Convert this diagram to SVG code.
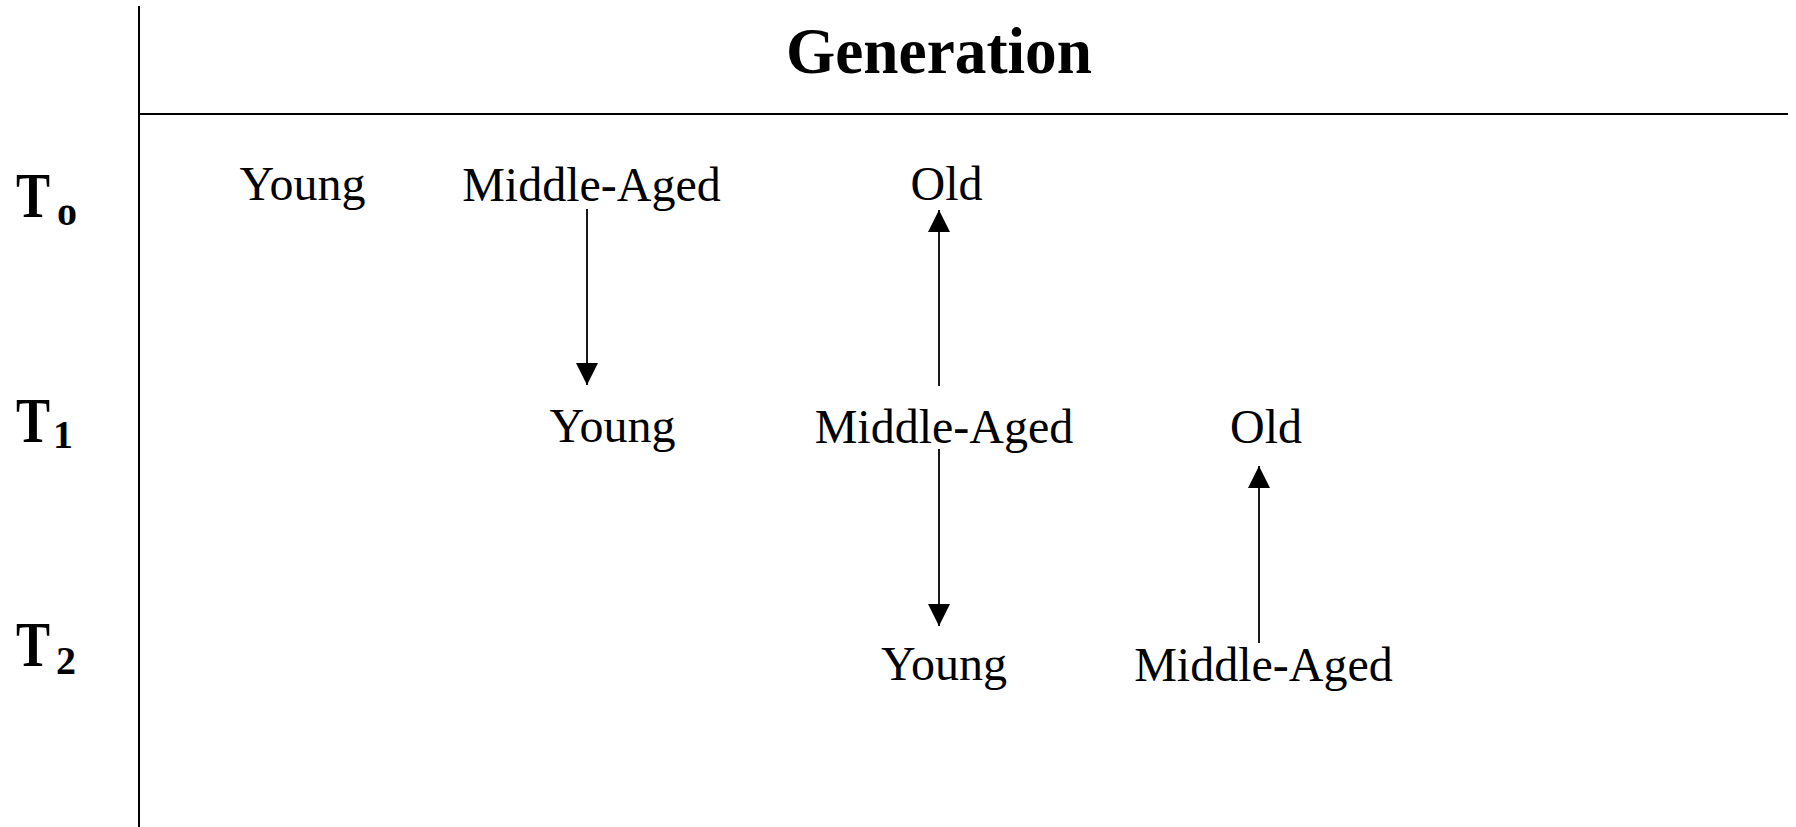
<svg xmlns="http://www.w3.org/2000/svg" width="1796" height="827" viewBox="0 0 1796 827">
<style>
.lbl{font-family:"Liberation Serif","Times New Roman",serif;font-size:48px;fill:#000;text-anchor:middle}
.tl{font-family:"Liberation Serif","Times New Roman",serif;font-weight:bold;fill:#000}
.ax{stroke:#000;stroke-width:2;fill:none}
.arr{stroke:#000;stroke-width:1.8;fill:none;marker-end:url(#ah)}
</style>
<defs>
<marker id="ah" markerUnits="userSpaceOnUse" markerWidth="22" markerHeight="22" viewBox="0 0 20 20" refX="20" refY="10" orient="auto">
<path d="M0,0 L20,10 L0,20 Z" fill="#000"/>
</marker>
</defs>
<g id="axes">
<line class="ax" x1="139" y1="6" x2="139" y2="827"/>
<line class="ax" x1="139" y1="114" x2="1788" y2="114"/>
</g>
<g id="title"><text class="tl" x="939" y="73" font-size="66" text-anchor="middle" textLength="306" lengthAdjust="spacingAndGlyphs">Generation</text></g>
<g id="row-T0"><text class="tl" x="16" y="217" font-size="64" textLength="34" lengthAdjust="spacingAndGlyphs">T</text><text class="tl" x="57" y="225" font-size="40">o</text></g>
<g id="row-T1"><text class="tl" x="16" y="442" font-size="64" textLength="34" lengthAdjust="spacingAndGlyphs">T</text><text class="tl" x="53" y="448" font-size="40">1</text></g>
<g id="row-T2"><text class="tl" x="16" y="666" font-size="64" textLength="34" lengthAdjust="spacingAndGlyphs">T</text><text class="tl" x="56" y="674" font-size="40">2</text></g>
<g id="t0-young"><text class="lbl" x="302.5" y="200">Young</text></g>
<g id="t0-middle"><text class="lbl" x="591.5" y="201">Middle-Aged</text></g>
<g id="t0-old"><text class="lbl" x="946.5" y="200">Old</text></g>
<g id="t1-young"><text class="lbl" x="612.5" y="442">Young</text></g>
<g id="t1-middle"><text class="lbl" x="944" y="443">Middle-Aged</text></g>
<g id="t1-old"><text class="lbl" x="1266" y="443">Old</text></g>
<g id="t2-young"><text class="lbl" x="944" y="680">Young</text></g>
<g id="t2-middle"><text class="lbl" x="1263.5" y="681">Middle-Aged</text></g>
<g id="connectors">
<line class="arr" x1="587" y1="209" x2="587" y2="385"/>
<line class="arr" x1="939" y1="386" x2="939" y2="210"/>
<line class="arr" x1="939" y1="449" x2="939" y2="626"/>
<line class="arr" x1="1259" y1="643" x2="1259" y2="466"/>
</g>
</svg>
